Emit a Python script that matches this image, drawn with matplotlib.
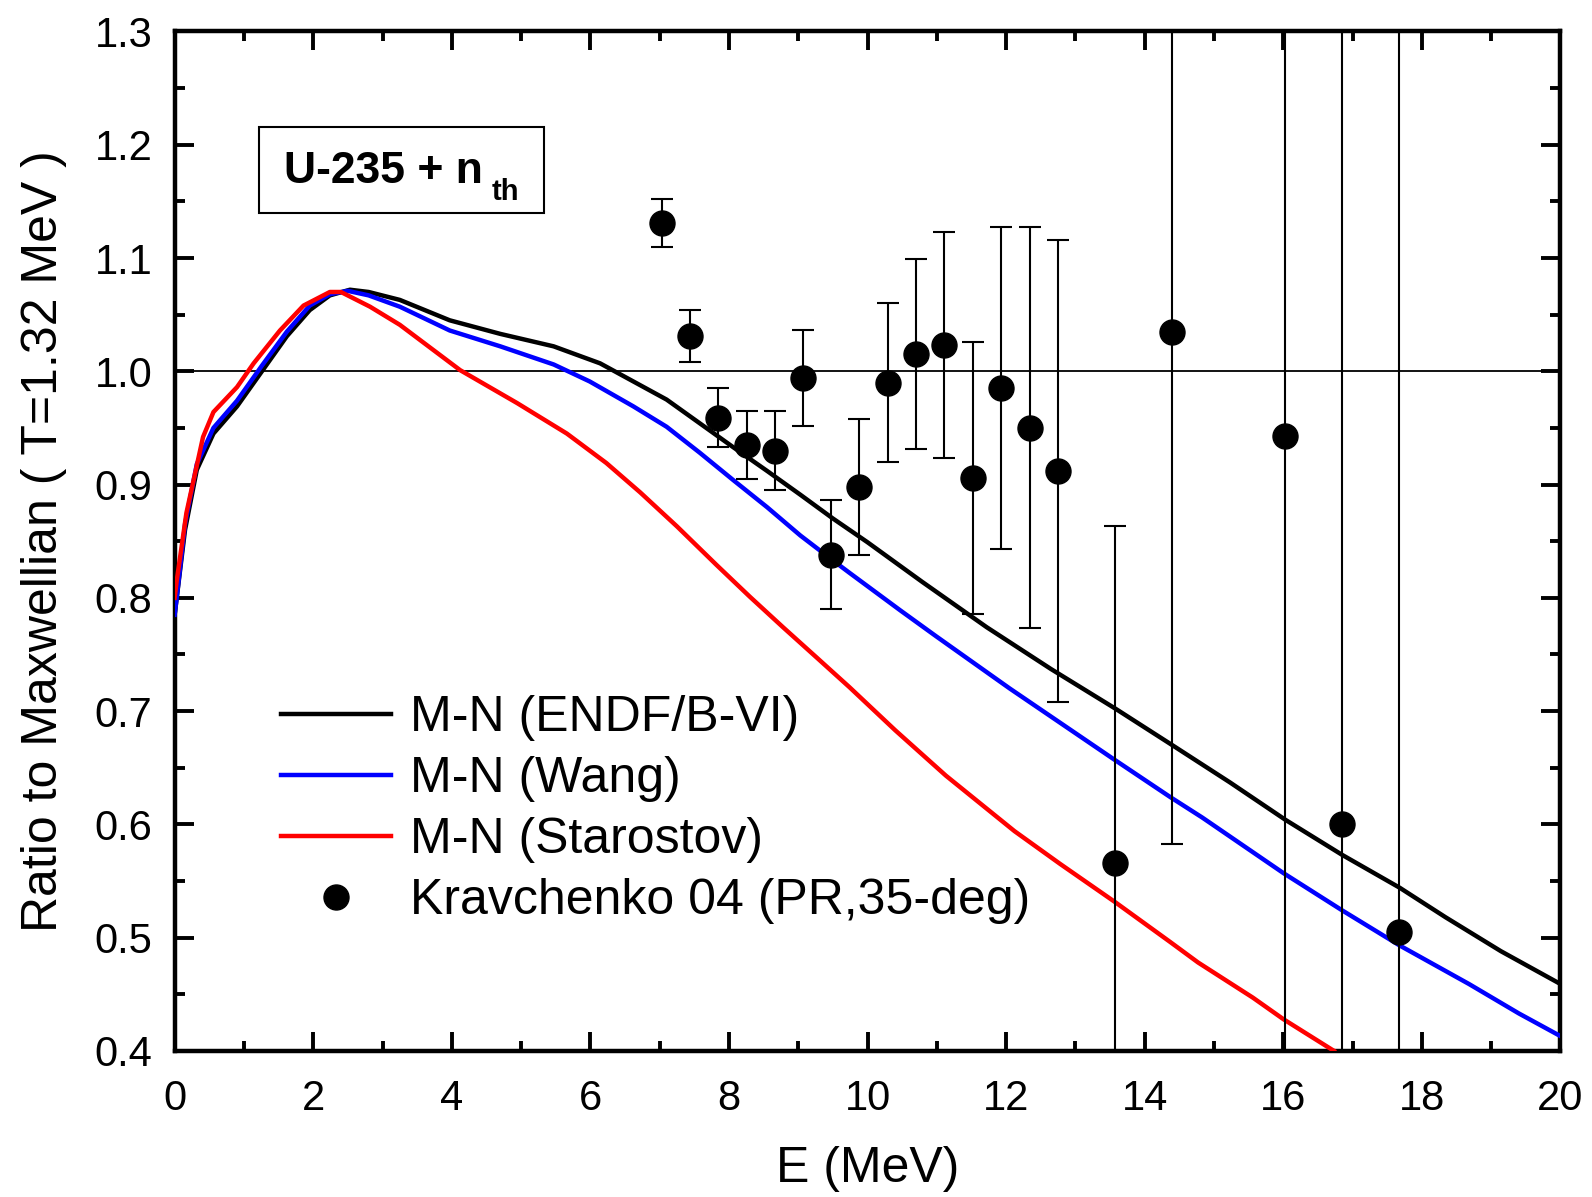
import matplotlib
matplotlib.use("Agg")
import matplotlib.pyplot as plt
from matplotlib.ticker import MultipleLocator, FormatStrFormatter
from matplotlib.patches import Rectangle

plt.rcParams['font.family'] = ['Liberation Sans', 'DejaVu Sans']

# ---- data ----
endf_E = [0.0, 0.03, 0.15, 0.32, 0.56, 0.9, 1.26, 1.62, 1.95, 2.24, 2.53, 2.8, 3.25, 3.97, 4.70,
          5.47, 6.14, 6.62, 7.10, 7.58, 8.06, 8.55, 9.03, 9.50, 10.0, 10.79, 11.72, 12.65, 13.58,
          14.37, 15.23, 16.03, 16.85, 17.68, 18.34, 19.14, 20.0]
endf_R = [0.785, 0.80, 0.86, 0.913, 0.945, 0.969, 1.0, 1.031, 1.054, 1.067, 1.072, 1.070, 1.063,
          1.045, 1.033, 1.022, 1.007, 0.991, 0.975, 0.954, 0.933, 0.912, 0.891, 0.870, 0.849, 0.814,
          0.774, 0.737, 0.702, 0.671, 0.637, 0.604, 0.573, 0.544, 0.518, 0.488, 0.459]

wang_E = [0.0, 0.03, 0.15, 0.32, 0.56, 0.9, 1.26, 1.62, 1.95, 2.24, 2.5, 2.8, 3.25, 3.97, 4.70,
          5.47, 5.99, 6.62, 7.10, 7.58, 8.06, 8.55, 9.03, 9.50, 9.74, 10.47, 10.99, 12.05, 13.54,
          14.37, 14.83, 16.0, 16.85, 17.68, 18.68, 19.4, 20.0]
wang_R = [0.785, 0.80, 0.865, 0.918, 0.95, 0.974, 1.005, 1.035, 1.058, 1.068, 1.071, 1.067, 1.057,
          1.036, 1.022, 1.006, 0.991, 0.969, 0.951, 0.928, 0.904, 0.880, 0.855, 0.833, 0.822, 0.789,
          0.766, 0.720, 0.658, 0.624, 0.606, 0.557, 0.524, 0.493, 0.459, 0.433, 0.413]

staro_E = [0.0, 0.03, 0.17, 0.41, 0.56, 0.9, 1.14, 1.52, 1.86, 2.24, 2.4, 2.82, 3.25, 4.12, 4.94,
           5.66, 6.23, 6.72, 7.25, 7.82, 8.30, 8.78, 9.27, 9.74, 10.4, 11.13, 12.12, 12.78, 13.58,
           14.37, 14.77, 15.56, 16.0, 16.73]
staro_R = [0.80, 0.815, 0.875, 0.942, 0.964, 0.986, 1.007, 1.036, 1.058, 1.070, 1.070, 1.057, 1.041,
           1.001, 0.972, 0.945, 0.919, 0.893, 0.863, 0.829, 0.801, 0.774, 0.747, 0.721, 0.683, 0.643,
           0.594, 0.565, 0.531, 0.496, 0.478, 0.447, 0.428, 0.400]

krav_E = [7.03, 7.44, 7.84, 8.26, 8.66, 9.07, 9.47, 9.88, 10.29, 10.70, 11.11, 11.52, 11.93,
          12.34, 12.75, 13.57, 14.39, 16.03, 16.85, 17.67]
krav_R = [1.131, 1.031, 0.959, 0.935, 0.930, 0.994, 0.838, 0.898, 0.990, 1.015, 1.023, 0.906,
          0.985, 0.950, 0.912, 0.566, 1.035, 0.943, 0.600, 0.505]
krav_err = [0.021, 0.023, 0.026, 0.030, 0.035, 0.042, 0.048, 0.060, 0.070, 0.084, 0.100, 0.120,
            0.142, 0.177, 0.204, 0.297, 0.452, 0.600, 0.750, 0.850]

labels = ["M-N (ENDF/B-VI)", "M-N (Wang)", "M-N (Starostov)", "Kravchenko 04 (PR,35-deg)"]

# ---- figure ----
fig = plt.figure(figsize=(15.92, 11.97), dpi=100)
ax = fig.add_axes([0.1097, 0.1221, 0.8705, 0.8516])

ax.axhline(1.0, color='black', lw=1.3, zorder=1)

l1, = ax.plot(endf_E, endf_R, color='black', lw=3.2, zorder=2, label=labels[0])
l2, = ax.plot(wang_E, wang_R, color='#0000ff', lw=3.2, zorder=3, label=labels[1])
l3, = ax.plot(staro_E, staro_R, color='#ff0000', lw=3.2, zorder=4, label=labels[2])

ax.errorbar(krav_E, krav_R, yerr=krav_err, fmt='none', ecolor='black', elinewidth=1.5,
            capsize=8, capthick=1.5, zorder=5)
l4, = ax.plot(krav_E, krav_R, 'o', color='black', markersize=18, ls='none', zorder=6,
              label=labels[3])

ax.set_xlim(0, 20)
ax.set_ylim(0.4, 1.3)
ax.xaxis.set_major_locator(MultipleLocator(2))
ax.xaxis.set_minor_locator(MultipleLocator(1))
ax.yaxis.set_major_locator(MultipleLocator(0.1))
ax.yaxis.set_minor_locator(MultipleLocator(0.05))
ax.yaxis.set_major_formatter(FormatStrFormatter('%.1f'))

ax.tick_params(which='both', direction='in', top=True, right=True, width=2.8)
ax.tick_params(which='major', length=14, labelsize=30)
ax.tick_params(which='minor', length=7)
ax.tick_params(axis='x', which='major', pad=20)
ax.tick_params(axis='y', which='major', pad=16)
for s in ax.spines.values():
    s.set_linewidth(3.2)

ax.set_xlabel("E (MeV)", fontsize=36, labelpad=20)
ax.set_ylabel("Ratio to Maxwellian ( T=1.32 MeV )", fontsize=36, labelpad=20)

leg = ax.legend(handles=[l1, l2, l3, l4], loc='upper left', bbox_to_anchor=(0.0768, 0.349),
                frameon=False, fontsize=36, handlelength=2.2, handletextpad=0.38,
                labelspacing=0.30, borderpad=0, borderaxespad=0)

# label box
ax.add_patch(Rectangle((0.0609, 0.822), 0.2057, 0.084, transform=ax.transAxes,
                       fill=False, lw=1.5, edgecolor='black', zorder=7))
ax.text(0.079, 0.851, "U-235 + n", transform=ax.transAxes, fontsize=32,
        fontweight='bold', ha='left', va='baseline', zorder=8)
ax.text(0.2290, 0.8346, "th", transform=ax.transAxes, fontsize=21,
        fontweight='bold', ha='left', va='baseline', zorder=8)

fig.savefig("out.png", dpi=100)
